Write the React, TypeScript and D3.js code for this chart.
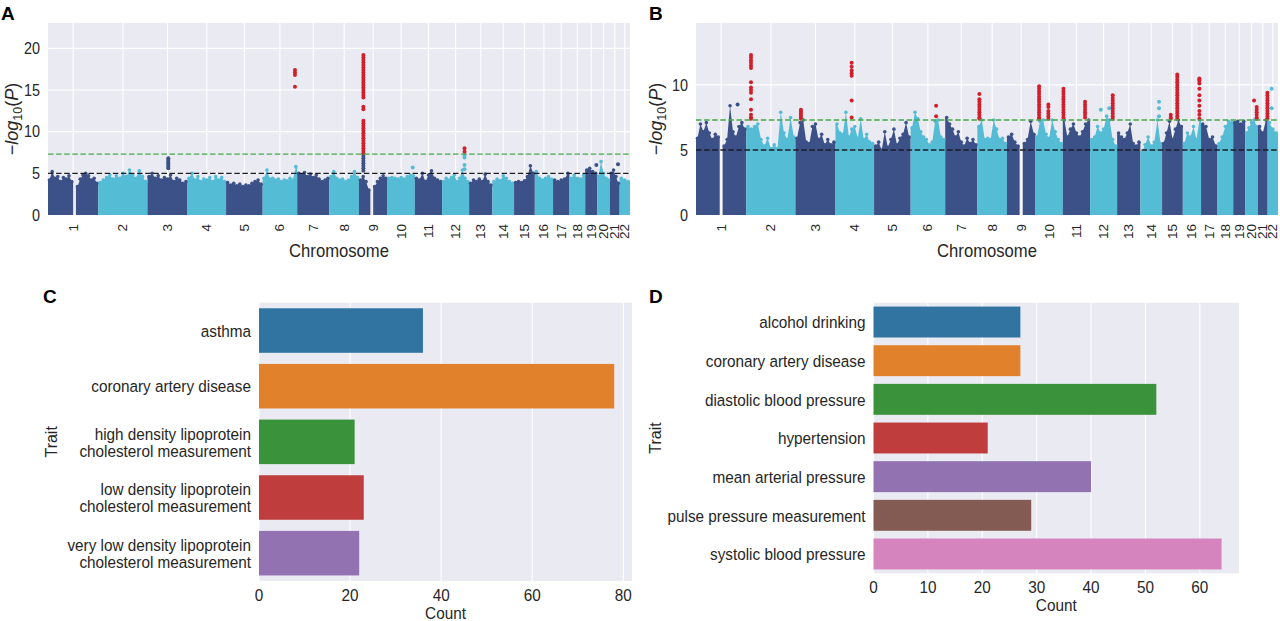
import * as d3 from "d3";
import type { ReactNode } from "react";

// GRCh37 autosome lengths (Mb)
const chromosomes = d3.range(1, 23).map(String);
const chromLengths = [
  249.25, 243.2, 198.02, 191.15, 180.92, 171.12, 159.14, 146.36, 141.21, 135.53, 135.01,
  133.85, 115.17, 107.35, 102.53, 90.35, 81.2, 78.08, 59.13, 63.03, 48.13, 51.3,
];

type Locus = [number, number, number[]]; // chromosome, position (Mb), -log10(P) values

// upper envelope of the dense SNP cloud per chromosome, evenly spaced; null = centromere gap
const envelopeA: (number | null)[][] = [
  [4.2, 5.2, 4.4, 4.6, 4.0, 4.5, 4.3, 4.7, 4.0, null, 3.4, 4.3, 4.8, 5.0, 4.7, 4.2, 4.4, 3.8],
  [3.9, 4.2, 4.5, 4.8, 4.3, 4.7, 4.4, 5.0, 4.6, 5.4, 4.8, 4.4, 5.3, 4.6, 4.0],
  [4.6, 5.0, 4.4, 4.7, 4.2, 4.5, 4.3, 4.8, 4.0, 4.4, 4.2, 3.8, 4.0],
  [4.4, 5.0, 4.2, 4.6, 4.0, 4.3, 4.2, 4.5, 4.0, 4.6, 4.2, 4.5, 4.0],
  [3.9, 3.6, 3.8, 3.5, 3.7, 3.4, 3.6, 3.5, 3.8, 4.0, 4.2, 3.7],
  [4.4, 5.4, 4.3, 4.4, 4.2, 4.3, 4.0, 4.2, 4.1, 4.4, 4.2, 5.8],
  [5.0, 4.8, 5.1, 4.6, 4.9, 4.5, 4.8, 4.3, 4.0, 4.2, 4.4],
  [4.6, 5.2, 4.4, 4.2, 4.3, 4.0, 4.2, 4.6, 5.2, 4.5],
  [4.2, 4.6, 4.0, 3.0, null, 3.4, 4.0, 4.4, 4.7, 4.4],
  [4.4, 4.5, 4.4, 4.3, 4.5, 4.3, 4.6, 4.8, 4.7],
  [4.4, 4.2, 5.0, 4.0, 4.8, 5.3, 4.4, 4.2, 4.0],
  [4.0, 4.4, 4.2, 4.5, 4.8, 4.0, 4.4, 5.4, 4.4, 4.0],
  [3.8, 4.2, 4.0, 4.3, 4.0, 4.9, 4.0, 3.6],
  [4.0, 4.3, 4.1, 4.7, 4.4, 4.0, 3.8],
  [3.9, 4.0, 3.9, 4.1, 4.6, 5.9, 5.0],
  [5.2, 4.4, 4.2, 4.4, 4.6, 4.3],
  [4.2, 4.0, 4.2, 4.3, 5.0],
  [4.4, 4.8, 4.4, 4.3, 4.8],
  [5.4, 5.6, 5.2, 5.0],
  [4.6, 6.4, 5.0, 4.4, 4.2],
  [5.0, 5.4, 4.6, 3.8],
  [4.4, 4.2, 4.0],
];

const significantA: Locus[] = [
  [6, 160, [17.4, 17.1, 16.8, 15.4]],
  [9, 22, [
    19.2, 18.9, 18.6, 18.3, 18.0, 17.7, 17.4, 17.1, 16.8, 16.5, 16.2, 15.9, 15.6, 15.3, 15.0,
    14.7, 14.4, 14.1, 13.0, 12.7, 11.3, 11.0, 10.7, 10.4, 10.1, 9.8, 9.5, 9.2, 8.9, 8.6, 8.3,
    8.0, 7.7, 7.4,
  ]],
  [12, 111, [8.0, 7.6]],
];

const nominalA: Locus[] = [
  [3, 103, [6.8, 6.6, 6.4, 6.2, 6.0, 5.8, 5.6]],
  [9, 22, [7.1, 6.8, 6.5, 6.2, 5.9, 5.6, 5.3]],
  [10, 125, [5.7]],
  [12, 111, [7.2, 6.9, 6.0, 5.5]],
  [19, 55, [6.0]],
  [21, 40, [6.1]],
];

const envelopeB: (number | null)[][] = [
  [5.9, 7.0, 6.4, 7.1, 6.3, 5.8, 6.2, 6.0, null, 5.3, 5.8, 8.4, 6.4, 6.0, 6.8, 7.1, 6.6],
  [6.8, 6.6, 6.8, 7.0, 5.8, 5.3, 5.9, 5.1, 5.4, 5.1, 7.9, 6.3, 5.8, 7.5, 6.0],
  [5.9, 7.1, 7.3, 5.6, 5.5, 6.8, 7.0, 5.8, 6.2, 5.4, 5.8, 5.4, 5.6],
  [7.0, 6.3, 6.2, 7.9, 6.0, 6.6, 6.8, 5.9, 7.4, 5.8, 6.2, 5.6, 5.5],
  [5.3, 5.6, 5.0, 6.4, 5.2, 5.8, 6.6, 5.4, 5.9, 6.2, 7.1, 6.0],
  [6.7, 7.9, 7.4, 6.4, 6.0, 5.8, 5.4, 5.6, 7.2, 7.3, 6.0, 5.8],
  [7.5, 7.0, 6.6, 6.0, 6.4, 5.6, 5.3, 5.9, 5.5, 5.8, 5.4],
  [6.8, 7.3, 5.8, 5.9, 5.8, 7.3, 6.6, 5.8, 5.9, 5.5],
  [6.0, 6.2, 5.6, 5.3, null, 5.5, 5.8, 7.2, 6.2],
  [6.0, 7.2, 7.3, 6.2, 5.9, 7.3, 6.4, 5.8, 5.5],
  [7.3, 6.0, 6.6, 7.0, 6.3, 6.0, 6.4, 7.0, 7.3],
  [5.8, 6.0, 6.8, 6.3, 6.6, 7.6, 7.3, 5.8, 5.3],
  [6.3, 6.0, 5.8, 6.3, 7.0, 5.5, 5.3, 5.6],
  [4.8, 5.4, 6.0, 5.3, 5.6, 7.3, 5.5],
  [5.5, 6.3, 7.2, 5.8, 6.6, 7.3, 6.8],
  [5.5, 6.3, 6.0, 6.8, 5.8, 7.3],
  [7.0, 6.8, 5.8, 6.0, 5.3],
  [5.5, 6.0, 6.8, 7.2, 7.1],
  [7.1, 7.2, 7.0, 7.2],
  [6.3, 6.7, 7.1, 7.3, 6.8],
  [6.8, 6.3, 7.3],
  [7.1, 6.6, 6.3],
];

const significantB: Locus[] = [
  [2, 23, [12.3, 12.1, 11.9, 11.7, 11.5, 11.3, 10.2, 9.8, 9.6, 9.4, 8.9, 8.1, 7.7, 7.5, 7.4]],
  [3, 27, [8.1, 7.95, 7.8, 7.65, 7.5, 7.4]],
  [4, 80, [11.7, 11.4, 11.1, 10.9, 10.7, 8.8, 7.5]],
  [6, 126, [8.4, 7.6]],
  [8, 10, [9.3, 8.9, 8.7, 8.5, 8.3, 8.1, 7.9, 7.7, 7.5, 7.4]],
  [10, 18, [9.9, 9.7, 9.5, 9.3, 9.1, 8.9, 8.7, 8.5, 8.3, 8.1, 7.9, 7.7, 7.5, 7.4]],
  [10, 64, [8.5, 8.3, 8.0, 7.8, 7.6, 7.4]],
  [11, 3, [9.7, 9.5, 9.3, 9.1, 8.9, 8.7, 8.5, 8.3, 8.1, 7.9, 7.7, 7.5]],
  [11, 110, [8.7, 8.5, 8.3, 8.1, 7.9, 7.7, 7.5]],
  [12, 112, [9.2, 9.0, 8.8, 8.6, 8.4, 8.2, 8.0, 7.8, 7.6, 7.4]],
  [15, 43, [7.7, 7.5, 7.4]],
  [15, 75, [10.8, 10.6, 10.4, 10.2, 10.0, 9.8, 9.6, 9.4, 9.2, 9.0, 8.8, 8.6, 8.4, 8.2, 8.0, 7.8, 7.6, 7.4]],
  [16, 82, [10.5, 10.4, 10.3, 10.1, 9.7, 9.2, 8.8, 8.4, 8.0, 7.7, 7.4]],
  [20, 44, [8.8]],
  [20, 57, [8.3, 8.1, 7.9, 7.7, 7.5, 7.4]],
  [21, 47, [9.4, 9.2, 9.0, 8.8, 8.6, 8.4, 8.2, 8.0, 7.8, 7.6, 7.4]],
];

const nominalB: Locus[] = [
  [1, 206, [8.5]],
  [12, 53, [8.1]],
  [12, 95, [8.2]],
  [14, 92, [8.7, 8.2, 7.6]],
  [22, 20, [9.7, 8.2]],
];

const traitsC = [
  "asthma",
  "coronary artery disease",
  "high density lipoprotein cholesterol measurement",
  "low density lipoprotein cholesterol measurement",
  "very low density lipoprotein cholesterol measurement",
];
const countsC = [36, 78, 21, 23, 22];
const ticksC = [0, 20, 40, 60, 80];

const traitsD = [
  "alcohol drinking",
  "coronary artery disease",
  "diastolic blood pressure",
  "hypertension",
  "mean arterial pressure",
  "pulse pressure measurement",
  "systolic blood pressure",
];
const countsD = [27, 27, 52, 21, 40, 29, 64];
const ticksD = [0, 10, 20, 30, 40, 50, 60];

const traitColors = ["#3274a1", "#e1812c", "#3a923a", "#c03d3e", "#9372b2", "#845b53", "#d684bd"];

const FONT = "'Liberation Sans', Arial, Helvetica, sans-serif";
const INK = "#262626";
const PANEL_BG = "#eaeaf2";
const DARK = "#3b5187";
const LIGHT = "#55bcd6";
const HIT = "#d21f2b";
const GENOME_WIDE = -Math.log10(5e-8);
const SUGGESTIVE = 5;
// horizontal labels use a slightly condensed face
const SQUEEZE = 0.9;

interface LabelProps {
  x: number;
  y: number;
  size: number;
  anchor?: "start" | "middle" | "end";
  central?: boolean;
  children: ReactNode;
}

function Label({ x, y, size, anchor = "start", central = false, children }: LabelProps) {
  return (
    <text
      transform={`translate(${x},${y}) scale(${SQUEEZE},1)`}
      textAnchor={anchor}
      dominantBaseline={central ? "central" : undefined}
      fontSize={size}
    >
      {children}
    </text>
  );
}

interface ManhattanProps {
  letter: string;
  left: number;
  top: number;
  width: number;
  height: number;
  envelope: (number | null)[][];
  significant: Locus[];
  nominal: Locus[];
  yTicks: number[];
  labelX: number;
}

function Manhattan({ letter, left, top, width, height, envelope, significant, nominal, yTicks, labelX }: ManhattanProps) {
  const offsets = [0, ...d3.cumsum(chromLengths)];
  const total = offsets[offsets.length - 1];
  const x = d3.scaleLinear().domain([0, total]).range([left, left + width]);
  const peak = d3.max(significant, (d) => d3.max(d[2])) ?? 10;
  const y = d3.scaleLinear().domain([0, peak * 1.2]).range([top + height, top]);
  const colorOf = (ci: number) => (ci % 2 === 0 ? DARK : LIGHT);

  const area = d3
    .area<[number, number]>()
    .x((d) => x(d[0]))
    .y0(y(0))
    .y1((d) => y(d[1]));

  const runs: { ci: number; pts: [number, number][] }[] = [];
  const tips: { ci: number; pos: number; v: number }[] = [];
  envelope.forEach((vals, ci) => {
    const n = vals.length;
    const step = chromLengths[ci] / n;
    const off = offsets[ci];
    let run: [number, number][] = [];
    vals.forEach((v, i) => {
      if (v == null) {
        if (run.length) runs.push({ ci, pts: run });
        run = [];
        return;
      }
      if (!run.length) run.push([off + i * step, v]);
      run.push([off + (i + 0.5) * step, v]);
      tips.push({ ci, pos: off + (i + 0.5) * step, v });
      if (i === n - 1 || vals[i + 1] == null) run.push([off + (i + 1) * step, v]);
    });
    if (run.length) runs.push({ ci, pts: run });
  });

  const centers = chromLengths.map((len, i) => offsets[i] + len / 2);
  const bottom = top + height;

  return (
    <g fontFamily={FONT} fill={INK}>
      <rect x={left} y={top} width={width} height={height} fill={PANEL_BG} />
      {yTicks.map((t) => (
        <line key={`h${t}`} x1={left} x2={left + width} y1={y(t)} y2={y(t)} stroke="#fff" strokeWidth={1.1} />
      ))}
      {centers.map((c, i) => (
        <line key={`v${i}`} x1={x(c)} x2={x(c)} y1={top} y2={bottom} stroke="#fff" strokeWidth={1.1} />
      ))}
      {runs.map((r, i) => (
        <path key={`a${i}`} d={area(r.pts) ?? ""} fill={colorOf(r.ci)} />
      ))}
      {tips.map((t, i) => (
        <circle key={`t${i}`} cx={x(t.pos)} cy={y(t.v)} r={1.8} fill={colorOf(t.ci)} />
      ))}
      {nominal.flatMap(([chr, pos, vals]) =>
        vals.map((v, j) => (
          <circle key={`n${chr}-${pos}-${j}`} cx={x(offsets[chr - 1] + pos)} cy={y(v)} r={2} fill={colorOf(chr - 1)} />
        ))
      )}
      {significant.flatMap(([chr, pos, vals]) =>
        vals.map((v, j) => (
          <circle key={`s${chr}-${pos}-${j}`} cx={x(offsets[chr - 1] + pos)} cy={y(v)} r={2} fill={HIT} />
        ))
      )}
      <line x1={left} x2={left + width} y1={y(SUGGESTIVE)} y2={y(SUGGESTIVE)} stroke="#1c1c24" strokeWidth={1.4} strokeDasharray="5.5 2.6" />
      <line x1={left} x2={left + width} y1={y(GENOME_WIDE)} y2={y(GENOME_WIDE)} stroke="#47a84b" strokeWidth={1.4} strokeDasharray="5.5 2.6" />

      {yTicks.map((t) => (
        <Label key={`yl${t}`} x={left - 8} y={y(t)} size={16} anchor="end" central>
          {t}
        </Label>
      ))}
      {chromosomes.map((c, i) => (
        <text
          key={`xl${c}`}
          transform={`translate(${x(centers[i])},${bottom + 9}) rotate(-90)`}
          textAnchor="end"
          dominantBaseline="central"
          fontSize={13.5}
        >
          {c}
        </text>
      ))}
      <Label x={left + width / 2} y={257} size={18.5} anchor="middle">
        Chromosome
      </Label>
      <text transform={`translate(${labelX},${top + height / 2}) rotate(-90)`} textAnchor="middle" fontSize={18}>
        <tspan>−</tspan>
        <tspan fontStyle="italic">log</tspan>
        <tspan fontSize={12.5} dy={4}>10</tspan>
        <tspan dy={-4}>(</tspan>
        <tspan fontStyle="italic">P</tspan>
        <tspan>)</tspan>
      </text>
      <text x={left - 47} y={20} fontSize={19} fontWeight="bold" fill="#000">
        {letter}
      </text>
    </g>
  );
}

function wrapLabel(s: string, width = 28): string[] {
  const lines: string[] = [];
  let cur = "";
  for (const w of s.split(" ")) {
    if (cur && (cur + " " + w).length > width) {
      lines.push(cur);
      cur = w;
    } else {
      cur = cur ? `${cur} ${w}` : w;
    }
  }
  if (cur) lines.push(cur);
  return lines;
}

interface BarPanelProps {
  letter: string;
  letterX: number;
  left: number;
  top: number;
  width: number;
  height: number;
  traits: string[];
  counts: number[];
  ticks: number[];
  traitX: number;
}

function BarPanel({ letter, letterX, left, top, width, height, traits, counts, ticks, traitX }: BarPanelProps) {
  const x = d3.scaleLinear().domain([0, (d3.max(counts) ?? 1) * 1.05]).range([left, left + width]);
  const y = d3.scaleBand<string>().domain(traits).range([top, top + height]).paddingInner(0.2).paddingOuter(0.1);
  const bottom = top + height;
  const lineH = 17.3;

  return (
    <g fontFamily={FONT} fill={INK}>
      <rect x={left} y={top} width={width} height={height} fill={PANEL_BG} />
      {ticks.map((t) => (
        <line key={`g${t}`} x1={x(t)} x2={x(t)} y1={top} y2={bottom} stroke="#fff" strokeWidth={1.1} />
      ))}
      {traits.map((t, i) => (
        <rect
          key={t}
          x={x(0)}
          y={y(t) ?? 0}
          width={x(counts[i]) - x(0)}
          height={y.bandwidth()}
          fill={traitColors[i % traitColors.length]}
        />
      ))}
      {traits.map((t) => {
        const lines = wrapLabel(t);
        const cy = (y(t) ?? 0) + y.bandwidth() / 2;
        return (
          <Label key={`l${t}`} x={left - 8} y={cy} size={17} anchor="end" central>
            {lines.map((ln, j) => (
              <tspan key={j} x={0} y={(j - (lines.length - 1) / 2) * lineH}>
                {ln}
              </tspan>
            ))}
          </Label>
        );
      })}
      {ticks.map((t) => (
        <Label key={`xt${t}`} x={x(t)} y={bottom + 19.5} size={17} anchor="middle">
          {t}
        </Label>
      ))}
      <Label x={left + width / 2} y={bottom + 38} size={17} anchor="middle">
        Count
      </Label>
      <text
        transform={`translate(${traitX},${top + height / 2}) rotate(-90)`}
        textAnchor="middle"
        dominantBaseline="central"
        fontSize={16}
      >
        Trait
      </text>
      <text x={letterX} y={303} fontSize={19} fontWeight="bold" fill="#000">
        {letter}
      </text>
    </g>
  );
}

export default function App() {
  return (
    <svg
      width={1280}
      height={621}
      viewBox="0 0 1280 621"
      style={{ position: "absolute", left: 0, top: 0, display: "block", background: "#fff" }}
    >
      <Manhattan
        letter="A"
        left={48}
        top={23}
        width={582}
        height={192}
        envelope={envelopeA}
        significant={significantA}
        nominal={nominalA}
        yTicks={[0, 5, 10, 15, 20]}
        labelX={18}
      />
      <Manhattan
        letter="B"
        left={696}
        top={23}
        width={582}
        height={192}
        envelope={envelopeB}
        significant={significantB}
        nominal={nominalB}
        yTicks={[0, 5, 10]}
        labelX={662}
      />
      <BarPanel
        letter="C"
        letterX={43}
        left={259}
        top={302.7}
        width={373}
        height={278.3}
        traits={traitsC}
        counts={countsC}
        ticks={ticksC}
        traitX={51}
      />
      <BarPanel
        letter="D"
        letterX={649}
        left={873.5}
        top={302.7}
        width={365.5}
        height={270.6}
        traits={traitsD}
        counts={countsD}
        ticks={ticksD}
        traitX={655.5}
      />
    </svg>
  );
}
